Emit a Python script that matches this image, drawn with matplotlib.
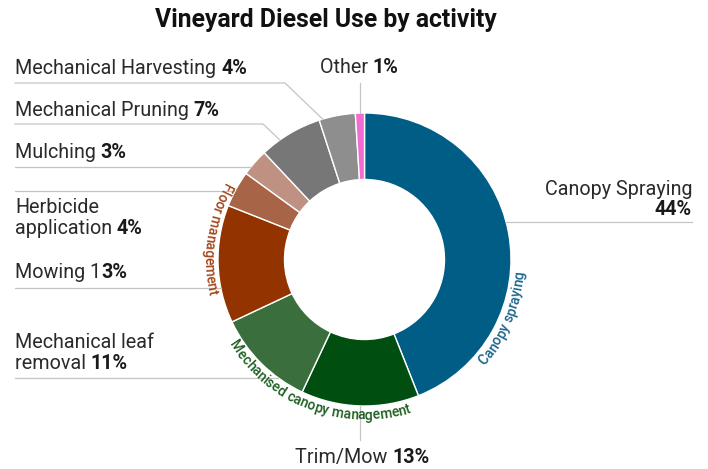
import numpy as np
import matplotlib
matplotlib.use("Agg")
import matplotlib.pyplot as plt
from matplotlib.font_manager import FontProperties, findfont, get_font

# slices, clockwise from 12 o'clock
activities = ["Canopy Spraying", "Trim/Mow", "Mechanical leaf removal", "Mowing",
              "Herbicide application", "Mulching", "Mechanical Pruning",
              "Mechanical Harvesting", "Other"]
shares = [44, 13, 11, 13, 4, 3, 7, 4, 1]
colors = ["#005e86", "#004f10", "#3a6e3c", "#933300", "#a86446",
          "#bf9182", "#777777", "#8e8e8e", "#f26bd2"]

# label text (plain part, bold part) - "\n" splits lines
label_plain = ["Canopy Spraying\n", "Trim/Mow ", "Mechanical leaf\nremoval ", "Mowing 1",
               "Herbicide\napplication ", "Mulching ", "Mechanical Pruning ",
               "Mechanical Harvesting ", "Other "]
label_bold = ["44%", "13%", "11%", "3%", "4%", "3%", "7%", "4%", "1%"]

# group names written round the ring
groups = ["Canopy spraying", "Mechanised canopy management", "Floor management"]
group_colors = ["#1a668c", "#1f5e22", "#a3461a"]

FONT = "Roboto"
W, H = 708, 469
CX, CY = 364.5, 259.5   # ring centre (pixels)
R, R_IN = 146.5, 80.0

# label layout: (x, first baseline, align, line gap)
label_pos = [(692, 195, "right", 20), (362.5, 463, "center", 21), (15, 348, "left", 21),
             (15, 278, "left", 21), (15, 213, "left", 21), (15, 158, "left", 21),
             (15, 116, "left", 21), (15, 74, "left", 21), (359, 73, "center", 21)]
# leaders: ("h", x_from, y) runs to the ring, ("e", x_from, y, elbow_x, angle), ("v", y_end)
leaders = [("h", 692, 222), ("v", 440), ("h", 15, 378), ("h", 15, 288), ("h", 15, 191),
           ("h", 15, 167), ("e", 15, 124, 263, 125.3), ("e", 15, 83, 285, 106.6), ("v", 83)]
# arc text: centre angle (deg, ccw on screen), baseline radius
group_arc = [(-23, 160), (-110.5, 160), (172, 160)]


def adv_width(s, fp):
    font = get_font(findfont(fp))
    font.set_size(fp.get_size_in_points(), 100)
    return sum(font.load_char(ord(c)).linearHoriAdvance / 65536 for c in s)


def on_ring(phi, r):
    a = np.radians(phi)
    return CX + r * np.cos(a), CY - r * np.sin(a)


def arc_text(ax, s, phi_c, r, fp, color):
    widths = [adv_width(c, fp) for c in s]
    total = sum(widths)
    start = np.radians(phi_c) - total / 2 / r
    pos = 0.0
    for c, w in zip(s, widths):
        a = start + (pos + w / 2) / r
        x, y = CX + r * np.cos(a), CY - r * np.sin(a)
        ax.text(x, y, c, fontproperties=fp, color=color, ha="center", va="baseline",
                rotation=np.degrees(a) + 90, rotation_mode="anchor")
        pos += w


fig = plt.figure(figsize=(W / 100, H / 100), dpi=100)
ax = fig.add_axes([0, 0, 1, 1])

ax.pie(shares, colors=colors, startangle=-90, counterclock=True, radius=R, center=(CX, CY),
       wedgeprops=dict(width=R - R_IN, edgecolor="white", linewidth=1.0))
ax.set_xlim(0, W)
ax.set_ylim(H, 0)
ax.set_aspect("auto")
ax.axis("off")

fp_reg = FontProperties(family=FONT, size=14.2)
fp_bold = FontProperties(family=FONT, size=14.2, weight="bold")
text_col = "#2a2a2a"
line_col = "#c4c4c4"

cum = np.cumsum([0] + shares[:-1])
for i in range(len(shares)):
    # label
    x, y0, align, gap = label_pos[i]
    lines = label_plain[i].split("\n")
    for j, ln in enumerate(lines):
        y = y0 + j * gap
        bold = label_bold[i] if j == len(lines) - 1 else ""
        wp, wb = adv_width(ln, fp_reg), adv_width(bold, fp_bold)
        if align == "left":
            x0 = x
        elif align == "right":
            x0 = x - wp - wb
        else:
            x0 = x - (wp + wb) / 2
        ax.text(x0, y, ln, fontproperties=fp_reg, color=text_col, ha="left", va="baseline")
        if bold:
            ax.text(x0 + wp, y, bold, fontproperties=fp_bold, color="#1a1a1a",
                    ha="left", va="baseline")

    # leader line
    ld = leaders[i]
    if ld[0] == "h":
        dy = ld[2] - CY
        dx = np.sqrt(R ** 2 - dy ** 2)
        xe = CX + dx if ld[1] > CX else CX - dx
        ax.plot([ld[1], xe], [ld[2], ld[2]], color=line_col, lw=0.9)
    elif ld[0] == "e":
        xe, ye = on_ring(ld[4], R)
        ax.plot([ld[1], ld[3], xe], [ld[2], ld[2], ye], color=line_col, lw=0.9)
    else:
        mid = 90 - 360 * (cum[i] + shares[i] / 2) / 100
        xe, ye = on_ring(mid, R)
        ax.plot([xe, xe], [ye, ld[1]], color=line_col, lw=0.9)

fp_arc = FontProperties(family=FONT, size=10, weight="medium")
for g, col, (phi, r) in zip(groups, group_colors, group_arc):
    arc_text(ax, g, phi, r, fp_arc, col)

ax.text(326, 27, "Vineyard Diesel Use by activity", fontproperties=FontProperties(
    family=FONT, size=17.8, weight="bold"), color="#111111", ha="center", va="baseline")

fig.savefig("out.png", dpi=100)
